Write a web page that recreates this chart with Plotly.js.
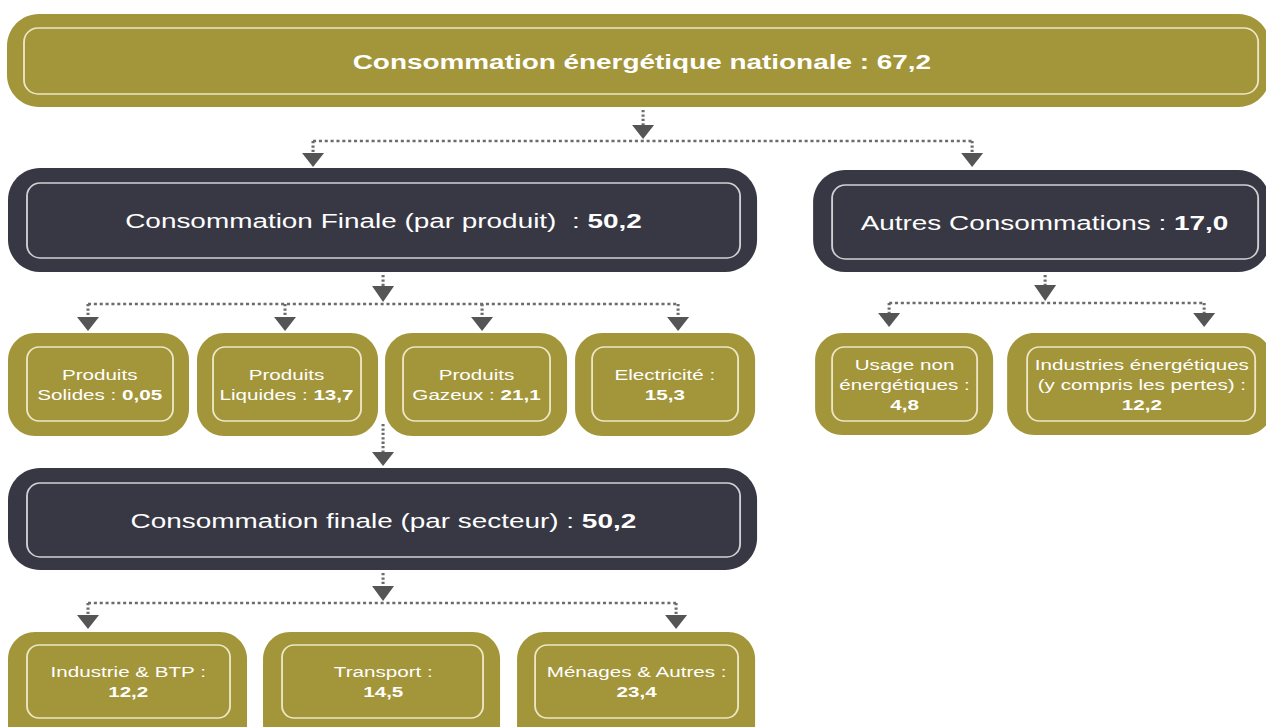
<!DOCTYPE html>
<html>
<head>
<meta charset="utf-8">
<script src="https://cdn.plot.ly/plotly-3.0.1.min.js"></script>
<style>
  html, body { margin: 0; padding: 0; background: #ffffff; overflow: hidden; }
  #wrap { width: 1266px; height: 727px; overflow: hidden; }
  #chart { width: 952px; height: 727px; transform: scaleX(1.33); transform-origin: 0 0; }
</style>
</head>
<body>
<div id="wrap"><div id="chart"></div></div>
<script>
// ---- data ----
const nationalLabel = "Consommation énergétique nationale";
const nationalValue = 67.2;

const finalProductLabel = "Consommation Finale (par produit)\u00a0 ";
const finalProductValue = 50.2;

const otherLabel = "Autres Consommations ";
const otherValue = 17.0;

const productLabels = ["Produits<br>Solides", "Produits<br>Liquides", "Produits<br>Gazeux", "Electricité"];
const productSep = [" : ", " : ", " : ", " :<br>"];
const productValues = [0.05, 13.7, 21.1, 15.3];

const otherItemLabels = ["Usage non<br>énergétiques", "Industries énergétiques<br>(y compris les pertes)"];
const otherItemValues = [4.8, 12.2];

const sectorTotalLabel = "Consommation finale (par secteur) ";
const sectorTotalValue = 50.2;

const sectorLabels = ["Industrie & BTP", "Transport", "Ménages & Autres"];
const sectorValues = [12.2, 14.5, 23.4];

// ---- helpers ----
function fr(v) { return (v === Math.round(v) ? v.toFixed(1) : String(v)).replace('.', ','); }

const GOLD = '#a3953a';
const DARK = '#383844';
const GOLD_LINE = '#ece6c4';
const DARK_LINE = '#cfcfd4';
const ARROW = '#555555';
const DOT = '#6c6c6c';
const FONT = 'Liberation Sans, Arial, Helvetica, sans-serif';

function rr(x0, y0, x1, y1, r) {
  const k = 0.5523 * r;
  return `M ${x0 + r},${y0} L ${x1 - r},${y0} C ${x1 - r + k},${y0} ${x1},${y0 + r - k} ${x1},${y0 + r} ` +
         `L ${x1},${y1 - r} C ${x1},${y1 - r + k} ${x1 - r + k},${y1} ${x1 - r},${y1} ` +
         `L ${x0 + r},${y1} C ${x0 + r - k},${y1} ${x0},${y1 - r + k} ${x0},${y1 - r} ` +
         `L ${x0},${y0 + r} C ${x0},${y0 + r - k} ${x0 + r - k},${y0} ${x0 + r},${y0} Z`;
}

const shapes = [];
const annotations = [];

function box(outer, inner, kind, ro, ri, text, size) {
  const fill = kind === 'gold' ? GOLD : DARK;
  const line = kind === 'gold' ? GOLD_LINE : DARK_LINE;
  shapes.push({ type: 'path', xref: 'x', yref: 'y', path: rr(outer[0], outer[1], outer[2], outer[3], ro),
                fillcolor: fill, line: { width: 0 }, layer: 'below' });
  shapes.push({ type: 'path', xref: 'x', yref: 'y', path: rr(inner[0], inner[1], inner[2], inner[3], ri),
                fillcolor: 'rgba(0,0,0,0)', line: { color: line, width: 1.4 }, layer: 'below' });
  annotations.push({ xref: 'x', yref: 'y', x: (inner[0] + inner[2]) / 2, y: (inner[1] + inner[3]) / 2,
                     text: text, showarrow: false, align: 'center', xanchor: 'center', yanchor: 'middle',
                     font: { family: FONT, size: size, color: '#ffffff' } });
}

function dotted(x0, y0, x1, y1) {
  shapes.push({ type: 'line', xref: 'x', yref: 'y', x0: x0, y0: y0, x1: x1, y1: y1,
                line: { color: DOT, width: 2.3, dash: '2.3px,2.1px' }, layer: 'below' });
}
function tri(x, yTop, yTip) {
  const w = 11;
  shapes.push({ type: 'path', xref: 'x', yref: 'y', path: `M ${x - w},${yTop} L ${x + w},${yTop} L ${x},${yTip} Z`,
                fillcolor: ARROW, line: { width: 0 }, layer: 'below' });
}
// connector: stem from parent, arrow onto bus line, then drops to children
function connector(xc, yStart, yTri, yBus, childXs, yDropTri, yDropTip) {
  dotted(xc, yStart, xc, yTri + 2);
  tri(xc, yTri, yBus - 2);
  dotted(Math.min(...childXs), yBus, Math.max(...childXs), yBus);
  childXs.forEach(cx => {
    dotted(cx, yBus, cx, yDropTri + 1);
    tri(cx, yDropTri, yDropTip);
  });
}

// ---- layout geometry ----
box([7, 14, 1270, 107], [24, 28, 1258, 94], 'gold', 32, 14,
    `<b>${nationalLabel} : ${fr(nationalValue)}</b>`, 21);

box([8, 168, 757, 272], [27, 183, 740, 258], 'dark', 32, 13,
    `${finalProductLabel}: <b>${fr(finalProductValue)}</b>`, 21);
box([813, 170, 1270, 272], [832, 185, 1258, 259], 'dark', 32, 13,
    `${otherLabel}: <b>${fr(otherValue)}</b>`, 21);

const prodOuter = [[8, 189], [197, 378], [385, 567], [575, 755]];
const prodInner = [[27, 173], [213, 361], [403, 550], [592, 738]];
productLabels.forEach((lab, i) => {
  box([prodOuter[i][0], 333, prodOuter[i][1], 436], [prodInner[i][0], 347, prodInner[i][1], 421], 'gold', 27, 12,
      `${lab}${productSep[i]}<b>${fr(productValues[i])}</b>`, 15.5);
});

const othOuter = [[815, 993], [1007, 1272]];
const othInner = [[832, 977], [1027, 1255]];
otherItemLabels.forEach((lab, i) => {
  box([othOuter[i][0], 333, othOuter[i][1], 435], [othInner[i][0], 347, othInner[i][1], 421], 'gold', 27, 12,
      `${lab} :<br><b>${fr(otherItemValues[i])}</b>`, 15.5);
});

box([8, 468, 757, 570], [27, 483, 740, 557], 'dark', 32, 13,
    `${sectorTotalLabel}: <b>${fr(sectorTotalValue)}</b>`, 21);

const secOuter = [[8, 247], [263, 500], [517, 755]];
const secInner = [[27, 230], [282, 483], [535, 738]];
sectorLabels.forEach((lab, i) => {
  box([secOuter[i][0], 632, secOuter[i][1], 760], [secInner[i][0], 645, secInner[i][1], 718], 'gold', 27, 12,
      `${lab} :<br><b>${fr(sectorValues[i])}</b>`, 15.5);
});

// ---- connectors ----
connector(643, 110, 125, 141, [313, 972], 153, 167);
connector(383, 275, 286, 304, [88, 285, 482, 678], 317, 331);
connector(1045, 275, 285, 303, [889, 1204], 313, 327);
dotted(383, 424, 383, 453);
tri(383, 452, 466);
connector(383, 573, 586, 603, [88, 676], 615, 629);

const layout = {
  width: 952, height: 727,
  margin: { l: 0, r: 0, t: 0, b: 0 },
  paper_bgcolor: '#ffffff', plot_bgcolor: '#ffffff',
  showlegend: false,
  xaxis: { range: [0, 1266], visible: false, fixedrange: true },
  yaxis: { range: [727, 0], visible: false, fixedrange: true },
  shapes: shapes,
  annotations: annotations
};

Plotly.newPlot('chart', [], layout, { staticPlot: true, displayModeBar: false });
</script>
</body>
</html>
